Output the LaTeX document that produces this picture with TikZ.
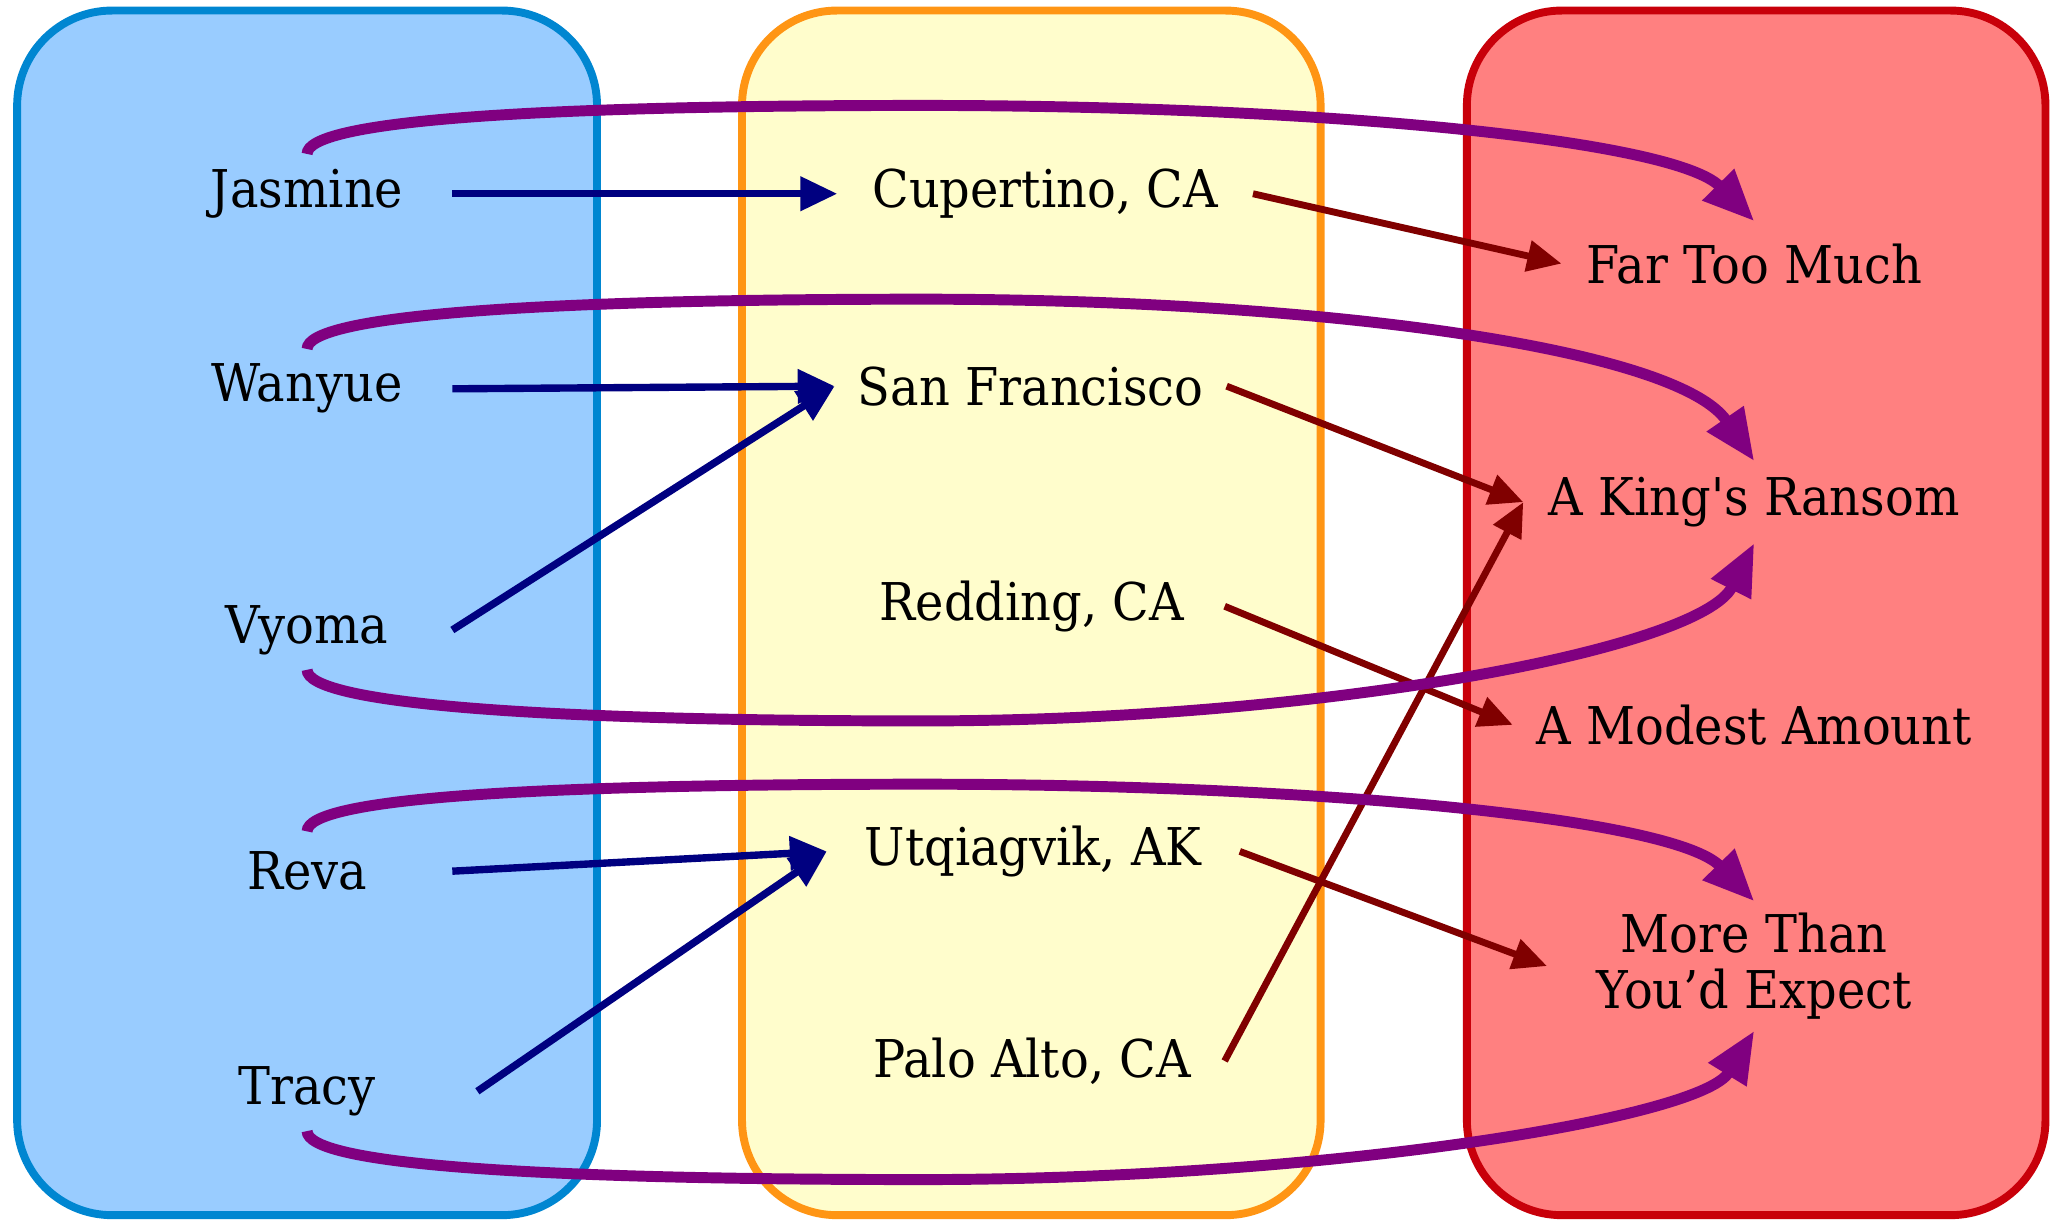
\documentclass[tikz,border=0pt]{standalone}
\usepackage{fontspec}
\newfontfamily\dvs{DejaVu Serif}[FakeStretch=0.92]
\usetikzlibrary{arrows.meta}
\definecolor{bluefill}{HTML}{99CCFF}
\definecolor{blueline}{HTML}{0086D1}
\definecolor{yelfill}{HTML}{FFFDCC}
\definecolor{yelline}{HTML}{FF9514}
\definecolor{redfill}{HTML}{FF8080}
\definecolor{redline}{HTML}{C8000A}
\definecolor{navyc}{HTML}{000080}
\definecolor{maroonc}{HTML}{800000}
\definecolor{purplec}{HTML}{800080}
\tikzset{
  lbl/.style={draw=none, inner sep=0pt, minimum height=60pt, align=center,
    font=\dvs\fontsize{39.5}{42}\selectfont},
  bluearr/.style={draw=navyc, line width=5.6pt, -{Triangle[length=28pt,width=25pt]}},
  redarr/.style={draw=maroonc, line width=5.2pt, -{Triangle[length=26pt,width=23pt]}},
  purarr/.style={draw=purplec, line width=8.3pt, -{Triangle[length=39pt,width=32pt]}},
  cluster/.style={line width=6pt, rounded corners=72pt}
}
\begin{document}
\begin{tikzpicture}[x=1pt,y=-1pt]
\useasboundingbox (0,0) rectangle (1560,929);
% clusters
\draw[cluster, draw=blueline, fill=bluefill] (13,8) rectangle (453,922);
\draw[cluster, draw=yelline, fill=yelfill] (563,8) rectangle (1002,922);
\draw[cluster, draw=redline, fill=redfill] (1113,8) rectangle (1552,922);
% left nodes
\node[lbl, minimum width=220pt] (jas) at (233,147) {Jasmine};
\node[lbl, minimum width=220pt] (wan) at (233,295) {Wanyue};
\node[lbl, minimum width=220pt] (vyo) at (233,478) {Vyoma};
\node[lbl, minimum width=220pt] (rev) at (233,661) {Reva};
\node[lbl, minimum width=258pt] (tra) at (233,828) {Tracy};
% middle nodes
\node[lbl, minimum width=315pt] (cup) at (793,147) {Cupertino, CA};
\node[lbl, minimum width=297pt] (sf) at (782,293) {San Francisco};
\node[lbl, minimum width=292pt] (red) at (783,460) {Redding, CA};
\node[lbl, minimum width=313pt] (utq) at (784,646) {Utqiagvik, AK};
\node[lbl, minimum width=292pt] (palo) at (783,805) {Palo Alto, CA};
% right nodes
\node[lbl, minimum width=292pt, minimum height=64pt] (far) at (1331,200) {Far Too Much};
\node[lbl, minimum width=350pt, minimum height=62pt] (king) at (1331,381) {A King's Ransom};
\node[lbl, minimum width=366pt] (modest) at (1331,550) {A Modest Amount};
\node[lbl, minimum width=314pt, minimum height=98pt] (more) at (1331,733) {More Than\\You’d Expect};
% blue edges
\draw[bluearr] (jas.east) -- (cup.west);
\draw[bluearr] (wan.east) -- (sf.west);
\draw[bluearr] (vyo.east) -- (sf.west);
\draw[bluearr] (rev.east) -- (utq.west);
\draw[bluearr] (tra.east) -- (utq.west);
% maroon edges
\draw[redarr] (cup.east) -- (far.west);
\draw[redarr] (sf.east) -- (king.west);
\draw[redarr] (red.east) -- (modest.west);
\draw[redarr] (utq.east) -- (more.west);
\draw[redarr] (palo.east) -- (king.west);
% purple edges
\draw[purarr] (jas.north) .. controls +(0,-25) and (400,80) .. (700,80)
  .. controls (1000,80) and (1270,106) .. (far.north);
\draw[purarr] (wan.north) .. controls +(0,-25) and (400,227) .. (700,227)
  .. controls (1000,227) and (1272,264) .. (king.north);
\draw[purarr] (rev.north) .. controls +(0,-25) and (400,595) .. (700,595)
  .. controls (1000,595) and (1270,621) .. (more.north);
\draw[purarr] (vyo.south) .. controls +(0,25) and (400,547) .. (700,547)
  .. controls (1000,547) and (1290,493) .. (king.south);
\draw[purarr] (tra.south) .. controls +(0,25) and (400,895) .. (700,895)
  .. controls (1000,895) and (1290,849) .. (more.south);
\end{tikzpicture}
\end{document}
